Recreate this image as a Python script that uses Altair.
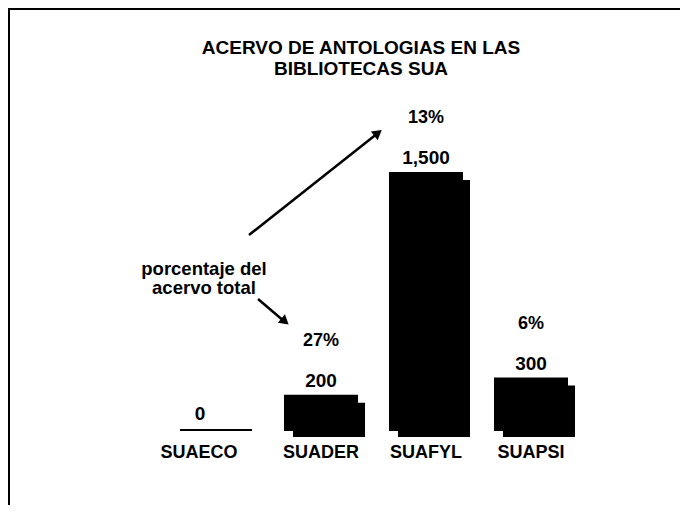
import altair as alt
import pandas as pd

# ---- data ----
CATEGORIES = ["SUAECO", "SUADER", "SUAFYL", "SUAPSI"]
VALUES = [0, 200, 1500, 300]
VALUE_LABELS = ["0", "200", "1,500", "300"]
PERCENTS = ["", "27%", "13%", "6%"]
TITLE_LINES = ["ACERVO DE ANTOLOGIAS  EN LAS", "BIBLIOTECAS SUA"]
NOTE_LINES = ["porcentaje del", "acervo total"]

df = pd.DataFrame({
    "cat": CATEGORIES,
    "value": VALUES,
    "vlabel": VALUE_LABELS,
    "pct": PERCENTS,
})

W, H = 672, 497
FONT = "Liberation Sans"
INK = "#000000"

xs = alt.Scale(domain=CATEGORIES, range=[155.5, 575.5], paddingInner=0.314, paddingOuter=0.157)
ys = alt.Scale(domain=[0, 1500], range=[422, 165], nice=False, zero=True)
xs_sh = alt.Scale(domain=CATEGORIES, range=[163.5, 583.5], paddingInner=0.314, paddingOuter=0.157)
ys_sh = alt.Scale(domain=[0, 1500], range=[429, 172], nice=False, zero=True)

base = alt.Chart(df)

shadow = base.mark_bar(color=INK).encode(
    x=alt.X("cat:N", scale=xs_sh, axis=None, sort=CATEGORIES),
    y=alt.Y("value:Q", scale=ys_sh, axis=None),
)

X = alt.X("cat:N", scale=xs, axis=None, sort=CATEGORIES)
Y = alt.Y("value:Q", scale=ys, axis=None)

bars = base.mark_bar(color=INK, stroke=INK, strokeWidth=2).encode(x=X, y=Y)

vlab = base.transform_filter("datum.value > 0").mark_text(
    font=FONT, fontWeight="bold", fontSize=19, baseline="middle", dy=-15, color=INK
).encode(x=X, y=Y, text="vlabel:N")

vlab0 = base.transform_filter("datum.value == 0").mark_text(
    font=FONT, fontWeight="bold", fontSize=19, baseline="middle", dy=-16, dx=-16, color=INK
).encode(x=X, y=Y, text="vlabel:N")

plab = base.transform_filter("datum.pct != ''").mark_text(
    font=FONT, fontWeight="bold", fontSize=18, baseline="middle", dy=-55, color=INK
).encode(x=X, y=Y, text="pct:N")

clab = base.transform_filter("datum.value > 0").mark_text(
    font=FONT, fontWeight="bold", fontSize=18, baseline="middle", color=INK
).encode(x=X, y=alt.value(445), text="cat:N")

clab0 = base.transform_filter("datum.value == 0").mark_text(
    font=FONT, fontWeight="bold", fontSize=18, baseline="middle", dx=-17, color=INK
).encode(x=X, y=alt.value(445), text="cat:N")

one = alt.Data(values=[{"k": 1}])

title = alt.Chart(one).mark_text(
    font=FONT, fontWeight="bold", fontSize=19, baseline="middle", align="center",
    lineHeight=21, color=INK
).encode(x=alt.value(353), y=alt.value(40), text=alt.value(TITLE_LINES))

note = alt.Chart(one).mark_text(
    font=FONT, fontWeight="bold", fontSize=18.5, baseline="middle", align="center",
    lineHeight=19, color=INK
).encode(x=alt.value(196), y=alt.value(261), text=alt.value(NOTE_LINES))

arrow1 = alt.Chart(one).mark_rule(color=INK, strokeWidth=2.5).encode(
    x=alt.value(250), y=alt.value(291), x2=alt.value(277), y2=alt.value(314)
)
head1 = alt.Chart(one).mark_point(
    shape="triangle-up", filled=True, size=120, angle=130, color=INK, opacity=1
).encode(x=alt.value(277), y=alt.value(313.5))

arrow2 = alt.Chart(one).mark_rule(color=INK, strokeWidth=2.5).encode(
    x=alt.value(241), y=alt.value(227), x2=alt.value(370), y2=alt.value(125)
)
head2 = alt.Chart(one).mark_point(
    shape="triangle-up", filled=True, size=120, angle=52, color=INK, opacity=1
).encode(x=alt.value(370), y=alt.value(125))

border_left = alt.Chart(one).mark_rule(color=INK, strokeWidth=2).encode(
    x=alt.value(1), y=alt.value(0), y2=alt.value(H)
)
border_top = alt.Chart(one).mark_rule(color=INK, strokeWidth=2).encode(
    x=alt.value(0), x2=alt.value(W), y=alt.value(1)
)

main = alt.layer(bars, vlab, vlab0, plab, clab, clab0, title, note,
                 arrow1, head1, arrow2, head2, border_left, border_top)

chart = alt.layer(alt.layer(shadow), main).resolve_scale(
    x="independent", y="independent"
).properties(
    width=W, height=H, autosize=alt.AutoSizeParams(type="none"), padding=0
).configure_view(strokeWidth=0)

chart.save("out.html", embed_options={"renderer": "svg", "actions": False})
